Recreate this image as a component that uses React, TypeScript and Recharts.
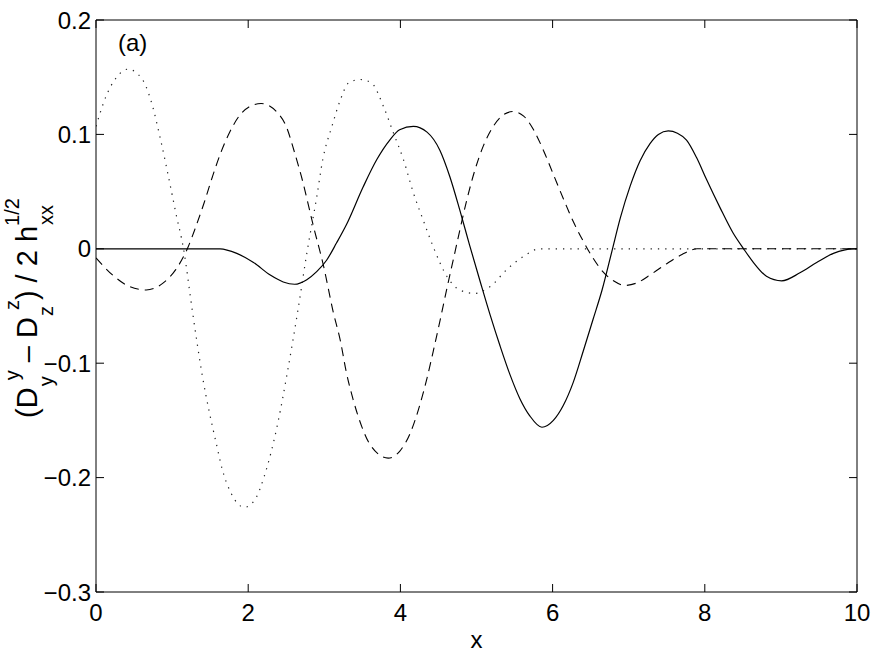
import { LineChart, Line, XAxis, YAxis, Customized } from 'recharts';

// ticks
const xTicks = [0, 2, 4, 6, 8, 10];
const yTicks = [-0.3, -0.2, -0.1, 0, 0.1, 0.2];

// solid curve
const solidX = [0, 1, 1.63, 1.85, 2.07, 2.29, 2.46, 2.61, 2.77, 2.9, 3.03, 3.16, 3.29, 3.51, 3.69, 3.86, 3.99, 4.17, 4.35, 4.52, 4.65, 4.78, 4.91, 5.05, 5.18, 5.31, 5.44, 5.57, 5.7, 5.86, 6.01, 6.14, 6.27, 6.4, 6.53, 6.65, 6.78, 6.89, 7.02, 7.15, 7.28, 7.39, 7.52, 7.64, 7.76, 7.89, 8.02, 8.2, 8.37, 8.51, 8.64, 8.81, 9.01, 9.25, 9.47, 9.69, 9.95, 10];
const solidY = [0, 0, 0, -0.004, -0.012, -0.023, -0.029, -0.031, -0.027, -0.02, -0.01, 0.005, 0.021, 0.054, 0.078, 0.095, 0.104, 0.107, 0.102, 0.086, 0.063, 0.034, 0.003, -0.029, -0.058, -0.085, -0.11, -0.131, -0.146, -0.156, -0.15, -0.137, -0.117, -0.09, -0.062, -0.036, -0.002, 0.027, 0.055, 0.077, 0.092, 0.1, 0.103, 0.101, 0.095, 0.08, 0.061, 0.036, 0.014, 0, -0.012, -0.024, -0.028, -0.021, -0.012, -0.004, 0, 0];

// dashed curve
const dashedX = [0, 0.22, 0.44, 0.66, 0.88, 1.05, 1.2, 1.31, 1.42, 1.53, 1.64, 1.75, 1.88, 2.01, 2.17, 2.37, 2.5, 2.61, 2.7, 2.86, 2.99, 3.12, 3.21, 3.29, 3.38, 3.49, 3.6, 3.84, 3.99, 4.13, 4.24, 4.35, 4.43, 4.52, 4.61, 4.7, 4.76, 4.87, 4.98, 5.09, 5.22, 5.35, 5.48, 5.62, 5.75, 5.88, 6.01, 6.14, 6.27, 6.4, 6.53, 6.66, 6.8, 6.95, 7.1, 7.3, 7.5, 7.7, 7.9, 8.0, 9, 10];
const dashedY = [-0.008, -0.023, -0.033, -0.036, -0.03, -0.018, 0, 0.019, 0.04, 0.063, 0.084, 0.101, 0.116, 0.124, 0.127, 0.12, 0.107, 0.084, 0.063, 0.019, -0.015, -0.056, -0.08, -0.108, -0.132, -0.155, -0.171, -0.183, -0.177, -0.161, -0.14, -0.113, -0.09, -0.063, -0.035, -0.008, 0.01, 0.042, 0.069, 0.09, 0.107, 0.117, 0.12, 0.116, 0.104, 0.086, 0.065, 0.044, 0.024, 0.007, -0.008, -0.02, -0.028, -0.032, -0.03, -0.022, -0.013, -0.005, 0, 0, 0, 0];

// dotted curve
const dottedX = [0, 0.13, 0.26, 0.42, 0.61, 0.72, 0.85, 0.98, 1.05, 1.15, 1.27, 1.4, 1.49, 1.58, 1.66, 1.77, 1.95, 2.1, 2.21, 2.3, 2.39, 2.52, 2.65, 2.77, 2.9, 2.98, 3.1, 3.21, 3.32, 3.47, 3.62, 3.78, 3.91, 4.04, 4.17, 4.3, 4.43, 4.61, 4.78, 4.97, 5.18, 5.4, 5.61, 5.83, 6, 7, 8, 9, 10];
const dottedY = [0.107, 0.133, 0.149, 0.157, 0.148, 0.13, 0.095, 0.054, 0.031, 0, -0.056, -0.112, -0.143, -0.17, -0.193, -0.213, -0.226, -0.218, -0.199, -0.178, -0.152, -0.106, -0.055, -0.004, 0.045, 0.078, 0.107, 0.13, 0.145, 0.148, 0.145, 0.124, 0.101, 0.078, 0.049, 0.025, 0.002, -0.024, -0.036, -0.039, -0.033, -0.018, -0.007, 0, 0, 0, 0, 0, 0];

const toPoints = (xs: number[], ys: number[]) => xs.map((x, i) => ({ x, y: ys[i] }));
const solid = toPoints(solidX, solidY);
const dashed = toPoints(dashedX, dashedY);
const dotted = toPoints(dottedX, dottedY);

const FONT = 'Liberation Sans, Arial, Helvetica, sans-serif';
const fmtY = (v: number) => (v === 0 ? '0' : v.toFixed(1).replace('-', '\u2212'));

const BottomTick = ({ x, y, payload }: any) => (
  <g>
    <line x1={x} y1={y} x2={x} y2={y - 8} stroke="#000" />
    <text x={x} y={y + 29} textAnchor="middle" fontSize={24} fontFamily={FONT} fill="#000">
      {payload.value}
    </text>
  </g>
);

const TopTick = ({ x, y }: any) => <line x1={x} y1={y} x2={x} y2={y + 8} stroke="#000" />;

const LeftTick = ({ x, y, payload }: any) => (
  <g>
    <line x1={x} y1={y} x2={x + 8} y2={y} stroke="#000" />
    <text x={x - 5} y={y + 8.5} textAnchor="end" fontSize={24} fontFamily={FONT} fill="#000">
      {fmtY(payload.value)}
    </text>
  </g>
);

const RightTick = ({ x, y }: any) => <line x1={x} y1={y} x2={x - 8} y2={y} stroke="#000" />;

const Annotations = () => (
  <g fontFamily={FONT} fill="#000">
    <text x={118} y={51} fontSize={24}>(a)</text>
    <text transform="translate(37,308) rotate(-90)" textAnchor="middle" fontSize={29}>
      <tspan>(D</tspan>
      <tspan fontSize={20} dx={1} dy={16}>y</tspan>
      <tspan fontSize={20} dx={-4} dy={-34}>y</tspan>
      <tspan dy={18}>{' \u2013 D'}</tspan>
      <tspan fontSize={20} dx={1} dy={16}>z</tspan>
      <tspan fontSize={20} dx={-4} dy={-34}>z</tspan>
      <tspan dy={18}>{') / 2 h'}</tspan>
      <tspan fontSize={20} dx={1} dy={16}>xx</tspan>
      <tspan fontSize={20} dx={-21} dy={-34}>1/2</tspan>
    </text>
  </g>
);

export default function App() {
  return (
    <div style={{ position: 'absolute', left: 0, top: 0, background: '#fff' }}>
      <LineChart width={879} height={655} data={solid} margin={{ top: 19, right: 21, bottom: 0, left: 0 }}>
        <XAxis
          dataKey="x"
          type="number"
          domain={[0, 10]}
          ticks={xTicks}
          interval={0}
          tickSize={0}
          tickMargin={0}
          height={63}
          stroke="#000"
          tick={<BottomTick />}
          allowDataOverflow
        />
        <XAxis
          xAxisId="top"
          orientation="top"
          dataKey="x"
          type="number"
          domain={[0, 10]}
          ticks={xTicks}
          interval={0}
          tickSize={0}
          tickMargin={0}
          height={1}
          stroke="#000"
          tick={<TopTick />}
          allowDataOverflow
        />
        <YAxis
          type="number"
          domain={[-0.3, 0.2]}
          ticks={yTicks}
          interval={0}
          tickSize={0}
          tickMargin={0}
          width={96}
          stroke="#000"
          tick={<LeftTick />}
          allowDataOverflow
        />
        <YAxis
          yAxisId="right"
          orientation="right"
          type="number"
          domain={[-0.3, 0.2]}
          ticks={yTicks}
          interval={0}
          tickSize={0}
          tickMargin={0}
          width={1}
          stroke="#000"
          tick={<RightTick />}
          allowDataOverflow
        />
        <Line data={dotted} dataKey="y" type="monotone" stroke="#222" strokeWidth={1.2} strokeDasharray="1.3 6" dot={false} isAnimationActive={false} />
        <Line xAxisId="top" yAxisId="right" data={dashed} dataKey="y" type="monotone" stroke="#000" strokeWidth={1.1} strokeDasharray="9 6" dot={false} isAnimationActive={false} />
        <Line data={solid} dataKey="y" type="monotone" stroke="#000" strokeWidth={1.2} dot={false} isAnimationActive={false} />
        <Customized component={Annotations} />
        <text x={476.5} y={648} textAnchor="middle" fontSize={24} fontFamily={FONT}>x</text>
      </LineChart>
    </div>
  );
}
